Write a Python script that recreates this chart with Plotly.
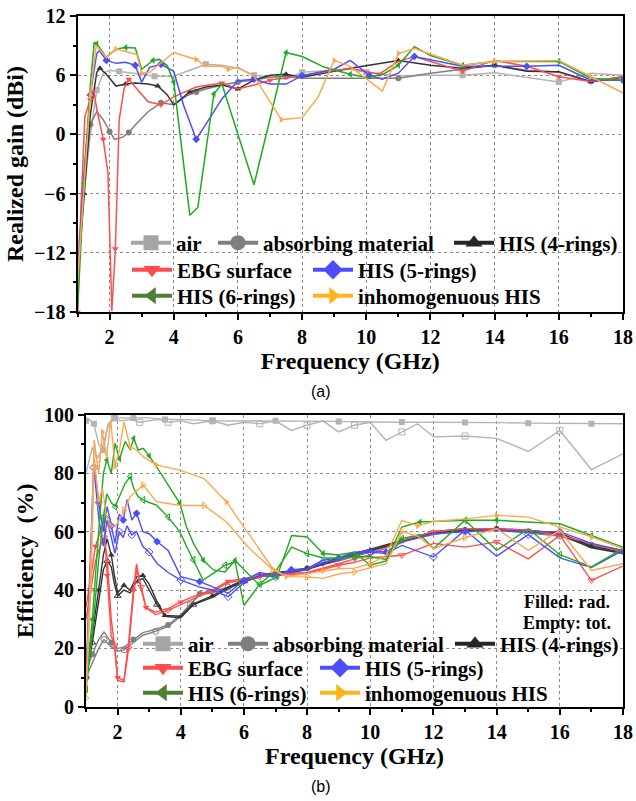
import plotly.graph_objects as go

# ---------------- data: (a) realized gain ----------------
names = ["air", "absorbing material", "HIS (4-rings)", "EBG surface",
         "HIS (5-rings)", "HIS (6-rings)", "inhomogenuous HIS"]

f_air = [1.0, 1.2, 1.4, 1.6, 1.8, 2.0, 2.3, 2.6, 3.0, 3.4, 4.0, 4.5, 5.0, 5.5, 6.0, 6.5, 7.0, 7.5, 8.0, 9.0,
         9.5, 10.0, 11.0, 12.0, 13.0, 14.0, 15.0, 16.0, 17.0, 18.0]
g_air = [-12.0, -6.0, 0.0, 4.5, 6.2, 6.5, 6.4, 6.3, 6.1, 5.9, 5.9, 6.5, 7.1, 7.0, 6.7, 6.0, 5.8, 5.6, 6.3, 6.5,
         6.6, 6.3, 5.95, 6.0, 6.0, 6.25, 5.8, 5.3, 6.2, 6.0]

f_abs = [1.0, 1.2, 1.4, 1.6, 1.8, 2.0, 2.15, 2.4, 2.6, 2.8, 3.2, 3.6, 4.0, 4.4, 4.7, 5.0, 5.5, 6.0, 6.5, 7.0,
         7.5, 8.0, 9.5, 11.0, 12.0, 13.0, 14.0, 15.0, 16.0, 17.0, 18.0]
g_abs = [-14.0, -5.0, 1.0, 2.3, 1.5, 0.3, -0.5, -0.3, 0.2, 0.95, 2.3, 3.2, 3.0, 3.9, 4.3, 4.6, 5.0, 5.3, 5.5, 5.8,
         5.9, 5.7, 5.7, 5.7, 6.2, 6.6, 7.0, 6.5, 6.3, 5.35, 5.85]

f_h4 = [1.0, 1.2, 1.4, 1.6, 1.7, 1.9, 2.2, 2.5, 2.8, 3.2, 3.5, 3.8, 4.0, 4.5, 5.0, 5.5, 6.0, 6.5, 7.0, 7.5,
        8.0, 9.5, 11.0, 12.0, 13.0, 14.0, 15.0, 16.0, 17.0, 18.0]
g_h4 = [-15.0, -6.0, 2.0, 6.3, 6.7, 6.1, 4.9, 5.1, 5.2, 5.1, 4.9, 4.0, 3.0, 4.3, 4.8, 5.0, 4.6, 5.5, 6.0, 6.1,
        5.8, 6.7, 7.5, 7.0, 6.7, 7.0, 6.4, 6.36, 5.35, 5.8]

f_ebg = [1.0, 1.1, 1.23, 1.4, 1.5, 1.6, 1.8, 1.95, 2.07, 2.18, 2.3, 2.45, 2.6, 2.8, 3.2, 3.6, 4.0, 4.7, 5.5, 6.0,
         6.5, 7.0, 8.0, 9.5, 10.4, 11.0, 11.5, 13.0, 14.0, 15.0, 16.0, 17.0, 18.0]
g_ebg = [-18.0, -8.0, 1.8, 3.5, 4.6, 2.6, -0.5, -3.9, -17.9, -11.6, 1.5, 4.6, 5.6, 4.8, 3.3, 3.0, 3.8, 4.8, 5.2, 4.6,
         5.0, 5.5, 6.0, 6.7, 6.1, 7.4, 7.9, 6.4, 7.5, 6.9, 5.85, 5.35, 5.85]

f_h5 = [1.0, 1.2, 1.4, 1.6, 1.68, 1.9, 2.2, 2.5, 2.8, 3.0, 3.25, 3.6, 4.0, 4.3, 4.7, 5.5, 6.0, 6.5, 7.0, 7.5,
        8.0, 9.0, 9.5, 10.1, 10.5, 11.0, 11.5, 13.0, 14.0, 15.0, 16.0, 17.0, 18.0]
g_h5 = [-15.0, -4.0, 4.0, 8.2, 8.5, 7.5, 7.2, 7.3, 7.0, 5.3, 6.8, 7.1, 6.4, 3.0, -0.5, 3.6, 5.45, 5.6, 5.1, 5.1,
        5.95, 6.6, 7.5, 5.95, 5.6, 6.2, 7.9, 6.9, 6.9, 6.9, 7.0, 5.5, 5.5]

f_h6 = [1.0, 1.2, 1.4, 1.52, 1.6, 1.9, 2.2, 2.5, 2.8, 3.0, 3.35, 3.55, 3.8, 4.0, 4.5, 4.75, 5.25, 5.5, 6.5, 7.5,
        8.0, 8.7, 9.5, 10.0, 10.5, 11.0, 11.5, 12.0, 13.0, 14.0, 15.0, 16.0, 17.0, 18.0]
g_h6 = [-18.0, -5.0, 5.0, 9.3, 9.2, 7.8, 8.65, 8.8, 8.75, 6.6, 7.5, 7.6, 6.95, 5.3, -8.2, -7.4, 4.1, 5.1, -5.1, 8.3,
        7.9, 6.8, 6.1, 5.8, 6.05, 7.0, 8.9, 8.0, 7.0, 7.4, 7.4, 7.4, 5.7, 5.5]

f_inh = [1.0, 1.2, 1.4, 1.58, 1.9, 2.2, 2.5, 2.85, 3.0, 3.25, 4.0, 4.7, 5.0, 5.5, 5.7, 6.0, 6.5, 7.35, 8.0, 8.5,
         9.0, 9.5, 10.5, 11.0, 11.5, 13.0, 14.0, 15.0, 16.0, 17.0, 18.0]
g_inh = [-15.0, -5.0, 4.0, 9.0, 7.8, 8.65, 8.4, 8.1, 6.2, 6.3, 8.3, 7.6, 6.9, 6.9, 6.6, 6.8, 5.9, 1.5, 1.7, 3.8,
         7.5, 6.9, 4.4, 8.2, 8.7, 7.0, 7.4, 7.45, 7.5, 5.85, 4.2]

# ---------------- data: (b) efficiency (rad = filled, tot = empty) ----------------
f_air_r = [1.0, 1.1, 1.25, 1.4, 1.55, 1.7, 1.9, 2.2, 2.5, 3.0, 3.5, 4.0, 5.0, 6.0, 7.0, 8.0, 9.0, 10.0, 11.0,
           12.0, 13.0, 14.0, 15.0, 16.0, 17.0, 18.0]
e_air_r = [98, 98.5, 97, 90, 88, 97, 99, 99, 99, 99, 98.5, 98.5, 98, 98, 98, 98, 97.8, 97.6, 97.6,
           97.6, 97.4, 97.4, 97.2, 97.2, 97, 97]
f_air_t = [1.0, 1.2, 1.35, 1.5, 1.7, 1.9, 2.1, 2.4, 2.7, 3.0, 3.3, 3.6, 4.0, 4.4, 5.0, 5.5, 6.0, 6.5, 7.0, 7.5,
           8.0, 8.5, 9.0, 9.5, 10.0, 10.5, 11.0, 11.5, 12.0, 13.0, 14.0, 15.0, 16.0, 17.0, 18.0]
e_air_t = [80, 89, 85, 88, 96, 99, 98, 98.5, 97.5, 98, 98.5, 97.5, 98, 97, 98, 96.5, 97.5, 97, 98, 94.7,
           96.5, 98, 94.2, 96.5, 97.5, 91.3, 94.2, 97, 92.5, 92.8, 92, 87.5, 94.7, 81.3, 86.7]

f_abs_b = [1.0, 1.2, 1.4, 1.57, 1.8, 2.0, 2.2, 2.5, 2.8, 3.2, 3.6, 4.0, 4.3, 4.6, 5.0, 5.5, 6.0, 6.5, 7.0, 8.0,
           9.0, 10.0, 11.0, 12.0, 13.0, 14.0, 15.0, 16.0, 17.0, 18.0]
e_abs_r = [12, 18, 23, 25.6, 22, 20, 20.4, 23, 25.4, 26.5, 28, 31.5, 35, 38.7, 39.5, 41, 43, 44.5, 45.5, 47.5,
           50, 53.5, 57, 59.5, 61, 61, 60, 59, 55.5, 53.5]
e_abs_t = [10, 15, 20, 23, 20.5, 19, 19.5, 22, 24.5, 25.8, 27.5, 31, 35, 38.5, 39, 41, 43, 44.5, 45.5, 47.5,
           50, 53, 56.5, 59, 60.5, 60.5, 59.5, 58.5, 55, 53]

f_h4_b = [1.0, 1.2, 1.4, 1.55, 1.67, 1.8, 1.9, 2.0, 2.2, 2.4, 2.6, 2.8, 3.0, 3.25, 3.5, 4.0, 4.4, 5.0, 5.5, 6.0,
          6.5, 7.0, 7.5, 8.0, 9.0, 10.0, 11.0, 12.0, 13.0, 14.0, 15.0, 16.0, 17.0, 18.0]
e_h4_r = [12, 25, 40, 52, 57.6, 52, 45, 39, 41.6, 40, 44.5, 45, 42, 36, 31.3, 31, 35.3, 38, 41, 43.5,
          45, 46, 46.5, 47.5, 51, 54, 57, 60, 61, 61, 60.5, 59.5, 55, 53]
e_h4_t = [10, 22, 36, 47, 50, 48, 42, 38, 40, 39, 43, 44, 40, 35, 31, 30.5, 35, 37.5, 40.5, 43,
          44.5, 45.5, 46, 47, 50.5, 53.5, 56.5, 59.5, 60.5, 60.5, 60, 59, 54.5, 52.5]

f_ebg_b = [1.0, 1.15, 1.3, 1.45, 1.57, 1.67, 1.8, 1.9, 2.0, 2.2, 2.35, 2.5, 2.6, 2.75, 2.9, 3.2, 3.6, 4.0, 4.6,
           5.0, 5.5, 6.0, 6.5, 7.0, 8.0, 9.0, 9.5, 10.0, 11.0, 12.0, 13.0, 14.0, 15.0, 16.0, 17.0, 18.0]
e_ebg_r = [34, 45, 55, 60, 64, 45, 24, 22, 10, 9, 22, 40, 49, 40, 34, 32.4, 33.6, 35.9, 38.7,
           40, 43, 44, 45, 45.5, 46, 49, 50.7, 52, 57, 60, 61, 61, 60.5, 58.7, 56, 53]
e_ebg_t = [30, 40, 50, 55, 58, 51, 30, 21, 9, 8.5, 20, 38, 47, 41, 34, 31.5, 33, 35, 38,
           39.5, 42.5, 43.5, 44.5, 45, 45.6, 48.5, 49.5, 51, 51.9, 56, 54.7, 56.5, 50.7, 58.7, 43.3, 48.2]

f_h5_b = [1.0, 1.1, 1.25, 1.4, 1.55, 1.67, 1.8, 1.92, 2.05, 2.18, 2.3, 2.45, 2.6, 2.8, 3.0, 3.25, 3.6, 4.0, 4.6,
          5.0, 5.5, 6.0, 6.5, 7.0, 7.5, 8.0, 8.5, 9.0, 9.5, 10.0, 10.5, 11.0, 12.0, 13.0, 14.0, 15.0, 16.0, 17.0, 18.0]
e_h5_r = [10, 40, 85, 70, 60, 68.6, 62, 56, 66, 64, 71, 64, 66.3, 60, 59.3, 56.6, 53.6, 44.6, 42.9,
          41, 38.9, 43.3, 46, 45, 47, 47.3, 50.2, 51, 53, 53.5, 53, 56.5, 59.3, 60, 60.5, 60, 60, 56, 53.6]
e_h5_t = [8, 35, 82, 65, 55, 64, 58, 52.6, 60, 58, 62, 58.9, 60, 54.9, 53, 49.1, 46, 43.4, 41,
          40, 37.7, 42.5, 45, 44.5, 46.5, 47, 49.5, 50.5, 52.5, 53, 52.5, 55.3, 51.3, 60.5, 51.6, 59, 51, 47.7, 53.6]

f_h6_b = [1.0, 1.2, 1.4, 1.55, 1.66, 1.8, 1.92, 2.06, 2.24, 2.4, 2.51, 2.65, 2.81, 3.0, 3.23, 3.6, 3.97, 4.18,
          4.4, 4.71, 5.03, 5.4, 5.72, 6.0, 6.5, 7.04, 7.51, 8.0, 8.51, 9.0, 9.5, 10.0, 10.5, 11.0, 11.57, 12.0,
          13.0, 14.0, 15.0, 16.0, 17.0, 18.0]
e_h6_r = [8, 30, 60, 80, 84.6, 80, 90.3, 85, 90.9, 88, 92, 88, 88.6, 86, 82.3, 76, 69.7, 61.7,
          56, 50.3, 46.9, 46.2, 50.2, 47, 41.6, 44.5, 58.7, 58.2, 52.5, 52, 53, 48.5, 50, 61.6, 63.3, 63.5,
          63.9, 63.9, 63.3, 62.7, 58.7, 54.7]
e_h6_t = [6, 25, 50, 65, 73, 70, 68.6, 72, 76.6, 78.9, 74.9, 72, 70.9, 70, 69.1, 65, 60, 55,
          50.3, 43.4, 45.7, 48.5, 49.7, 34.7, 42, 47, 54.7, 52.5, 51, 51, 51.3, 51.5, 50.5, 57.6, 59, 54.2,
          63.9, 53.6, 61, 52.1, 47.9, 54.2]

f_inh_b = [1.0, 1.15, 1.26, 1.4, 1.52, 1.65, 1.78, 1.92, 2.06, 2.2, 2.4, 2.6, 2.81, 3.23, 3.99, 4.74, 5.45,
           6.17, 6.91, 7.34, 7.63, 8.0, 8.5, 9.0, 9.5, 10.0, 10.5, 11.0, 11.5, 12.0, 13.0, 14.0, 15.0, 16.0,
           17.0, 18.0]
e_inh_r = [4.6, 50, 91.4, 80, 94.2, 85, 98.3, 82.3, 88, 97.6, 89.1, 88, 85.7, 82.9, 81, 78.2, 70.2,
           58.9, 47.4, 44.6, 45.1, 45.6, 46.5, 47.3, 47.5, 49, 51.9, 63.9, 62, 63.5, 64.4, 65.6, 65, 61.6,
           58.2, 54.2]
e_inh_t = [3, 40, 85, 70, 75, 65, 62, 61.7, 64, 67.4, 72, 74, 76, 70.3, 69, 69, 63.3,
           54.3, 47, 44.6, 44.5, 44.5, 44, 45.5, 46.2, 47.5, 49, 60, 58.5, 54.2, 58, 61, 53.6, 60.5,
           46.7, 49]

x_ticks = [2, 4, 6, 8, 10, 12, 14, 16, 18]

# ---------------- styling ----------------
SERIF = "Liberation Serif"
line_col = ["#b3b3b3", "#7f7f7f", "#333333", "#ff4d4d", "#4d4dff", "#1faa1f", "#ffa64d"]
leg_col = ["#a6a6a6", "#7f7f7f", "#262626", "#ff4d4d", "#4d4dff", "#4d8033", "#ffb31a"]
symbols = ["square", "circle", "triangle-up", "triangle-down", "diamond", "triangle-left", "triangle-right"]

W, H = 636, 801
fig = go.Figure()

top = [(f_air, g_air), (f_abs, g_abs), (f_h4, g_h4), (f_ebg, g_ebg),
       (f_h5, g_h5), (f_h6, g_h6), (f_inh, g_inh)]
for i, (fx, gy) in enumerate(top):
    fig.add_trace(go.Scatter(
        x=fx, y=gy, mode="lines+markers", showlegend=False, xaxis="x", yaxis="y",
        line=dict(color=line_col[i], width=1.5),
        marker=dict(symbol=symbols[i], size=6, color=line_col[i], maxdisplayed=12),
        name=names[i]))

bottom = [(f_air_r, e_air_r, f_air_t, e_air_t), (f_abs_b, e_abs_r, f_abs_b, e_abs_t),
          (f_h4_b, e_h4_r, f_h4_b, e_h4_t), (f_ebg_b, e_ebg_r, f_ebg_b, e_ebg_t),
          (f_h5_b, e_h5_r, f_h5_b, e_h5_t), (f_h6_b, e_h6_r, f_h6_b, e_h6_t),
          (f_inh_b, e_inh_r, f_inh_b, e_inh_t)]
for i, (fr, er, ft, et) in enumerate(bottom):
    fig.add_trace(go.Scatter(
        x=fr, y=er, mode="lines+markers", showlegend=False, xaxis="x2", yaxis="y2",
        line=dict(color=line_col[i], width=1.4),
        marker=dict(symbol=symbols[i], size=6, color=line_col[i], maxdisplayed=14),
        name=names[i] + " (rad.)"))
    fig.add_trace(go.Scatter(
        x=ft, y=et, mode="lines+markers", showlegend=False, xaxis="x2", yaxis="y2",
        line=dict(color=line_col[i], width=1.4),
        marker=dict(symbol=symbols[i] + "-open", size=6, color=line_col[i], maxdisplayed=14),
        name=names[i] + " (tot.)"))

# legends: one legend per entry so rows match the reference layout
leg_top = [(176, 243), (263, 243), (499, 243), (177, 270), (358, 270), (177, 296), (358, 296)]
leg_bot = [(188, 644), (273, 644), (500, 644), (188, 668), (365, 668), (188, 693), (365, 693)]
legend_layout = {}
k = 1
for panel, pos, xa, ya in [("a", leg_top, "x", "y"), ("b", leg_bot, "x2", "y2")]:
    for i in range(7):
        lname = "legend" if k == 1 else f"legend{k}"
        fig.add_trace(go.Scatter(
            x=[None], y=[None], mode="lines+markers", name=names[i], legend=lname,
            xaxis=xa, yaxis=ya, showlegend=True,
            line=dict(color=leg_col[i], width=4),
            marker=dict(symbol=symbols[i], size=15, color=leg_col[i])))
        tx, ty = pos[i]
        legend_layout[lname] = dict(
            x=(tx - 50) / W, y=1 - ty / H, xanchor="left", yanchor="middle",
            bgcolor="rgba(0,0,0,0)", borderwidth=0, itemwidth=40,
            font=dict(family=SERIF, size=21, color="black", weight="bold"))
        k += 1

axis_common = dict(
    showline=True, linecolor="black", linewidth=2, mirror=True,
    ticks="outside", ticklen=6, tickwidth=1.5, tickcolor="black",
    showgrid=True, gridcolor="#8c8c8c", gridwidth=1, griddash="dot",
    zeroline=False, automargin=False,
    tickfont=dict(family=SERIF, size=20, color="black", weight="bold"),
)
title_font = dict(family=SERIF, size=24, color="black", weight="bold")

fig.update_layout(
    width=W, height=H, margin=dict(l=0, r=0, t=0, b=0),
    paper_bgcolor="white", plot_bgcolor="white",
    xaxis=dict(axis_common, domain=[77.5 / W, 623 / W], range=[1, 18], tickvals=x_ticks,
               minor=dict(dtick=1, ticks="outside", ticklen=3, tickcolor="black", showgrid=False),
               title=dict(text="Frequency (GHz)", font=title_font, standoff=0), anchor="y"),
    yaxis=dict(axis_common, domain=[1 - 312 / H, 1 - 16 / H], range=[-18, 12], dtick=6, tick0=0,
               minor=dict(dtick=3, ticks="outside", ticklen=3, tickcolor="black", showgrid=False),
               title=dict(text="Realized gain (dBi)", font=title_font, standoff=4), anchor="x"),
    xaxis2=dict(axis_common, domain=[86 / W, 623 / W], range=[1, 18], tickvals=x_ticks,
                minor=dict(dtick=1, ticks="outside", ticklen=3, tickcolor="black", showgrid=False),
                title=dict(text="Frequency (GHz)", font=title_font, standoff=0), anchor="y2"),
    yaxis2=dict(axis_common, domain=[1 - 706.7 / H, 1 - 415 / H], range=[0, 100], dtick=20, tick0=0,
                minor=dict(dtick=10, ticks="outside", ticklen=3, tickcolor="black", showgrid=False),
                title=dict(text="Efficiency\u00a0 (%)", font=title_font, standoff=4), anchor="x2"),
    annotations=[
        dict(text="(a)", x=321 / W, y=1 - 391 / H, xref="paper", yref="paper", showarrow=False,
             yanchor="middle",
             font=dict(family="Liberation Sans, Arial, sans-serif", size=16, color="black")),
        dict(text="(b)", x=321 / W, y=1 - 786 / H, xref="paper", yref="paper", showarrow=False,
             yanchor="middle",
             font=dict(family="Liberation Sans, Arial, sans-serif", size=16, color="black")),
        dict(text="Filled: rad.", x=612 / W, y=1 - 602 / H, xref="paper", yref="paper", showarrow=False,
             xanchor="right", yanchor="middle",
             font=dict(family=SERIF, size=18, color="black", weight="bold")),
        dict(text="Empty: tot.", x=613 / W, y=1 - 623 / H, xref="paper", yref="paper", showarrow=False,
             xanchor="right", yanchor="middle",
             font=dict(family=SERIF, size=18, color="black", weight="bold")),
    ],
    **legend_layout,
)

fig.write_html("out.html")
